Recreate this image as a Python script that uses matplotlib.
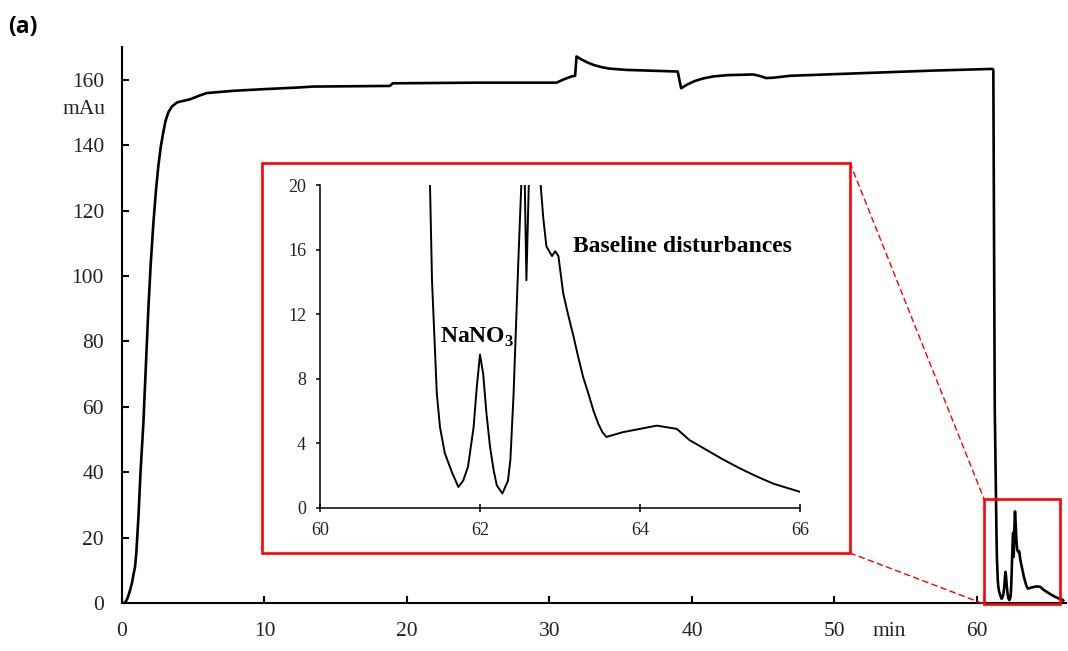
import matplotlib
matplotlib.use("Agg")
import matplotlib.pyplot as plt
from matplotlib.patches import Rectangle, ConnectionPatch

plt.rcParams['font.family'] = ['Liberation Serif', 'DejaVu Serif']
plt.rcParams['mathtext.fontset'] = 'custom'
plt.rcParams['mathtext.bf'] = 'Liberation Serif:bold'
plt.rcParams['mathtext.rm'] = 'Liberation Serif'

# Chromatogram trace: retention time (min) and detector signal (mAu)
time_min = [
    0.0, 0.21, 0.4, 0.56, 0.72, 0.8, 0.91, 1.0, 1.15, 1.3, 1.5, 1.68, 1.85,
    2.02, 2.2, 2.38, 2.55, 2.72, 2.9, 3.05, 3.25, 3.5, 3.84,
    4.07, 4.77, 5.47, 5.94, 6.18, 7.8, 9.9, 12.3, 13.4, 18.8, 19.0, 25.1,
    30.5, 31.0, 31.55, 31.8, 31.9, 32.2, 32.6, 33.1, 33.7, 34.2, 35.4, 39.0,
    39.24, 39.7, 40.2, 40.8, 41.5, 42.5, 44.3, 44.8, 45.2, 45.7, 46.9, 51.9,
    57.0, 61.1, 61.15, 61.25, 61.375, 61.40, 61.46, 61.5, 61.56, 61.65,
    61.73, 61.79, 61.85, 61.92, 61.96, 62.0, 62.04, 62.08, 62.125, 62.17,
    62.21, 62.28, 62.35, 62.38, 62.42, 62.48, 62.52, 62.54, 62.56, 62.58,
    62.62, 62.67, 62.72, 62.76, 62.79, 62.83, 62.90, 62.94, 62.98, 63.04,
    63.1, 63.17, 63.23, 63.29, 63.36, 63.42, 63.48, 63.53, 63.58, 63.79,
    64.0, 64.21, 64.46, 64.62, 64.83, 65.04, 65.25, 65.46, 65.67, 66.0,
    66.05,
]
signal_mau = [
    0.0, 0.0, 1.6, 3.8, 6.5, 8.6, 10.9, 15.0, 26.0, 40.0, 55.0, 73.0, 90.0,
    104.0, 116.0, 126.0, 133.6, 139.5, 144.0, 147.3, 150.0, 151.8, 153.0,
    153.3, 154.0, 155.2, 155.9, 156.0, 156.6, 157.1, 157.6, 157.9, 158.1,
    158.9, 159.1, 159.1, 160.1, 161.0, 161.2, 167.1, 166.3, 165.4, 164.5,
    163.8, 163.4, 163.0, 162.5, 157.4, 158.6, 159.6, 160.4, 161.0, 161.4,
    161.6, 161.1, 160.5, 160.6, 161.2, 162.0, 162.8, 163.3, 163.0, 60.0,
    20.0, 14.1, 7.1, 5.0, 3.4, 2.2, 1.3, 1.7, 2.55, 5.0, 7.5, 9.5, 8.3, 5.9,
    3.8, 2.35, 1.4, 0.9, 1.7, 3.0, 7.1, 15.4, 20.5, 21.5, 20.0, 14.1, 22.0,
    28.0, 24.0, 19.9, 18.0, 16.2, 15.6, 15.9, 15.6, 13.3, 12.0, 10.6, 9.3,
    8.1, 7.0, 6.0, 5.2, 4.7, 4.4, 4.7, 4.9, 5.1, 4.9, 4.2, 3.6, 3.0, 2.45,
    1.95, 1.5, 1.0, 0.8,
]

main_xticks = [0, 10, 20, 30, 40, 50, 60]
main_yticks = [0, 20, 40, 60, 80, 100, 120, 140, 160]
inset_xticks = [60, 62, 64, 66]
inset_yticks = [0, 4, 8, 12, 16, 20]

W, H = 1068, 651
fig = plt.figure(figsize=(W / 100, H / 100), dpi=100)


def fbox(x0, y0, x1, y1):
    """Pixel box (top-left origin) to figure-fraction [left, bottom, w, h]."""
    return [x0 / W, 1 - y1 / H, (x1 - x0) / W, (y1 - y0) / H]


text_col = '#222222'

# ---- main axes ----
ax = fig.add_axes(fbox(122, 47, 1066, 603))
ax.plot(time_min, signal_mau, color='black', lw=1.9, solid_joinstyle='round')
ax.set_xlim(0, 66.25)
ax.set_ylim(0, 170)
ax.set_xticks(main_xticks)
ax.set_yticks(main_yticks)
for s in ('top', 'right'):
    ax.spines[s].set_visible(False)
for s in ('left', 'bottom'):
    ax.spines[s].set_linewidth(1.5)
ax.tick_params(axis='both', direction='in', length=5, width=1.5,
               labelsize=15.5, labelcolor=text_col)
ax.tick_params(axis='y', pad=13)
ax.tick_params(axis='x', pad=14)

fig.text(84 / W, 1 - 110 / H, 'mAu', fontsize=15.5, color=text_col,
         ha='center', va='center')
fig.text(889 / W, 1 - 632 / H, 'min', fontsize=15.5, color=text_col,
         ha='center', va='center')
fig.text(8 / W, 1 - 27 / H, '(a)', fontsize=16.5, fontweight='bold',
         family=['Open Sans', 'DejaVu Sans'], ha='left', va='center')

# zoom region marker on the main axes
zx0, zx1, zy0, zy1 = 60.5, 65.8, -0.3, 31.8
ax.add_patch(Rectangle((zx0, zy0), zx1 - zx0, zy1 - zy0, fill=False,
                       edgecolor='#ff0000', lw=1.9, clip_on=False, zorder=5))

# ---- inset frame and axes ----
frame_px = (262, 163, 850, 553)
fb = fbox(*frame_px)
frame = Rectangle((fb[0], fb[1]), fb[2], fb[3], transform=fig.transFigure,
                  facecolor='white', edgecolor='#ff0000', lw=1.9, zorder=2)
fig.patches.append(frame)

axi = fig.add_axes(fbox(320, 185, 800, 508), zorder=3)
axi.patch.set_alpha(0)
axi.plot(time_min, signal_mau, color='black', lw=1.4,
         solid_joinstyle='round')
axi.set_xlim(60, 66)
axi.set_ylim(0, 20)
axi.set_xticks(inset_xticks)
axi.set_yticks(inset_yticks)
for s in ('top', 'right'):
    axi.spines[s].set_visible(False)
for s in ('left', 'bottom'):
    axi.spines[s].set_linewidth(1.1)
axi.tick_params(axis='x', direction='inout', length=6, width=1.1,
                labelsize=13, labelcolor=text_col, pad=7)
axi.tick_params(axis='y', direction='out', length=3, width=1.1,
                labelsize=13, labelcolor=text_col, pad=7)

axi.text(61.96, 10.25, 'NaNO$_\\mathbf{3}$', fontsize=17, fontweight='bold',
         ha='center', va='baseline')
axi.text(63.16, 16.2, 'Baseline disturbances', fontsize=17,
         fontweight='bold', ha='left', va='center')

# dashed leader lines from the inset frame to the zoom marker
for (fx, fy), (dx, dy) in [((frame_px[2], frame_px[1]), (zx0, zy1)),
                           ((frame_px[2], frame_px[3]), (zx0, zy0))]:
    con = ConnectionPatch(xyA=(fx / W, 1 - fy / H), coordsA=fig.transFigure,
                          xyB=(dx, dy), coordsB=ax.transData,
                          color='#ff0000', lw=1.0, linestyle=(0, (4, 3)),
                          zorder=2)
    fig.add_artist(con)

fig.savefig('out.png', dpi=100)
